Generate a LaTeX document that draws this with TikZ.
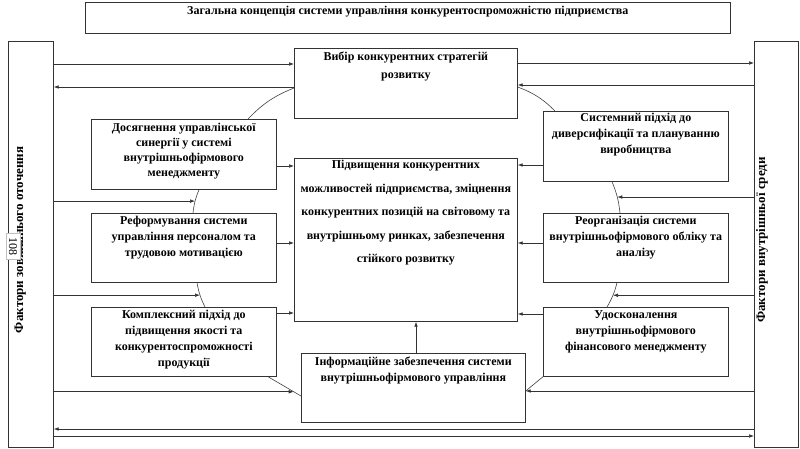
\documentclass[tikz,border=0pt]{standalone}
\usepackage{fontspec}
\setmainfont{Liberation Serif}
\usetikzlibrary{arrows.meta}
\newcommand{\bxt}[5]{\parbox[c][#2pt][t]{#1pt}{\centering\fontsize{12}{#3}\selectfont\bfseries\vspace*{#4pt}#5\par}}
\begin{document}
\begin{tikzpicture}[x=1pt,y=-1pt,
  box/.style={draw=black!80, line width=0.7pt, inner sep=0pt, anchor=north west, fill=white},
  arr/.style={draw=black!80, line width=0.6pt, -{Latex[length=5pt,width=3.6pt]}},
  ln/.style={draw=black!75, line width=0.6pt},
  sidetxt/.style={rotate=90, font=\fontsize{13}{13}\selectfont\bfseries, inner sep=0pt}]
\useasboundingbox (0,0) rectangle (800,449);

% side boxes
\node[box, minimum width=45pt, minimum height=406pt] (L) at (8,41) {};
\node[box, minimum width=44pt, minimum height=406pt] (R) at (754,41) {};
\node[sidetxt] (Lt) at (20,240) {Фактори зовнішнього оточення};
\node[sidetxt] (Rt) at (762,240) {Фактори внутрішньої среди};
\node[fill=white, draw=black!25, line width=0.4pt, rotate=-90, inner xsep=4pt, inner ysep=3pt, font=\fontsize{12}{12}\selectfont] (pg) at (13,246) {108};
\draw[ln] (21,240) -- (21,257);

% title
\node[box] (T) at (85,2) {\bxt{645}{31}{14}{4}{Загальна концепція системи управління конкурентоспроможністю підприємства}};

% boxes
\node[box] (V) at (294,48) {\bxt{223}{70}{18}{4}{Вибір конкурентних стратегій\\розвитку}};
\node[box] (D) at (91,119) {\bxt{185}{70}{15}{4}{Досягнення управлінської\\синергії у системі\\внутрішньофірмового\\менеджменту}};
\node[box] (S) at (543,111) {\bxt{185}{70}{16}{2}{Системний підхід до\\диверсифікації та плануванню\\виробництва}};
\node[box] (C) at (294,158) {\bxt{223}{163}{23.5}{2}{Підвищення конкурентних\\можливостей підприємства, зміцнення\\конкурентних позицій на світовому та\\внутрішньому ринках, забезпечення\\стійкого розвитку}};
\node[box] (Rf) at (91,213) {\bxt{185}{69}{16}{3}{Реформування системи\\управління персоналом та\\трудовою мотивацією}};
\node[box] (Ro) at (543,213) {\bxt{185}{69}{16}{3}{Реорганізація системи\\внутрішньофірмового обліку та\\аналізу}};
\node[box] (K) at (91,307) {\bxt{185}{69}{16}{3}{Комплексний підхід до\\підвищення якості та\\конкурентоспроможності\\продукції}};
\node[box] (U) at (543,307) {\bxt{185}{69}{16}{3}{Удосконалення\\внутрішньофірмового\\фінансового менеджменту}};
\node[box] (I) at (301,353) {\bxt{224}{69}{16}{4}{Інформаційне забезпечення системи\\внутрішньофірмового управління}};

% top arrows
\draw[arr] (L.east |- 0,64) -- (V.west |- 0,64);
\draw[arr] (V.east |- 0,63) -- (R.west |- 0,63);
\draw[arr] (V.west |- 0,87) -- (L.east |- 0,87);
\draw[arr] (R.west |- 0,85) -- (V.east |- 0,85);

% into central
\draw[arr] (D.east |- 0,166) -- (C.west |- 0,166);
\draw[arr] (S.west |- 0,165) -- (C.east |- 0,165);
\draw[arr] (Rf.east |- 0,243) -- (C.west |- 0,243);
\draw[arr] (Ro.west |- 0,243) -- (C.east |- 0,243);
\draw[arr] (K.east |- 0,313) -- (C.west |- 0,313);
\draw[arr] (U.west |- 0,314) -- (C.east |- 0,314);
\draw[arr] (I.north -| 416,0) -- (C.south -| 416,0);

% bottom lines
\draw[arr] (R.west |- 0,429) -- (L.east |- 0,429);
\draw[arr] (L.east |- 0,436) -- (R.west |- 0,436);

% cycle curves
\draw[ln] (V.west |- 0,88) to[bend right=12] (D.north -| 248,0);
\draw[ln] (V.east |- 0,87) to[bend left=12] (S.north -| 555,0);
\draw[ln] (D.south -| 199,0) to[bend right=8] coordinate[pos=0.5] (m1) (Rf.north -| 193,0);
\draw[ln] (Rf.south -| 197,0) to[bend right=8] coordinate[pos=0.5] (m2) (K.north -| 205,0);
\draw[ln] (K.south -| 268,0) -- coordinate[pos=0.78] (m3) (I.west |- 0,396);
\draw[ln] (S.south -| 612,0) to[bend left=8] coordinate[pos=0.5] (m4) (Ro.north -| 620,0);
\draw[ln] (Ro.south -| 617,0) to[bend left=8] coordinate[pos=0.5] (m5) (U.north -| 607,0);
\draw[ln] (U.south west) -- (I.east |- 0,391);
\coordinate (m6) at (I.east |- 0,391);

% feeding arrows
\draw[arr] (L.east |- m1) -- (m1);
\draw[arr] (L.east |- m2) -- (m2);
\draw[arr] (L.east |- m3) -- (m3);
\draw[arr] (R.west |- m4) -- (m4);
\draw[arr] (R.west |- m5) -- (m5);
\draw[arr] (R.west |- m6) -- (m6);
\end{tikzpicture}
\end{document}
